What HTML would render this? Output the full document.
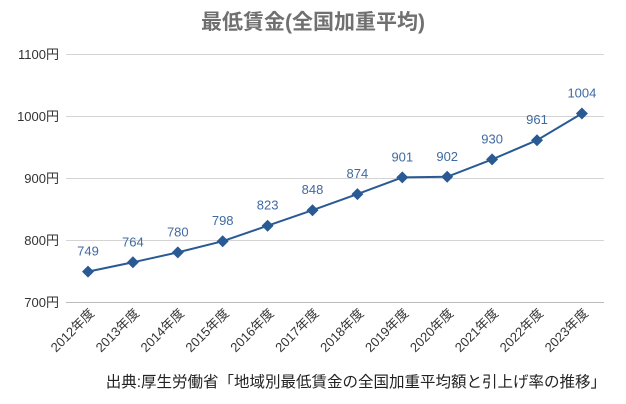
<!DOCTYPE html>
<html><head><meta charset="utf-8"><style>
body{margin:0;background:#fff}
svg{display:block}
text{font-family:"Liberation Sans","Noto Sans CJK JP",sans-serif}
</style></head><body>
<svg width="626" height="404" xmlns="http://www.w3.org/2000/svg">
<defs><path id="dm" d="M0 -6 L6 0 L0 6 L-6 0Z" fill="#2a5a94"/></defs>
<text x="313" y="29" text-anchor="middle" font-size="21" font-weight="bold" fill="#707070">最低賃金(全国加重平均)</text>
<g stroke="#d4d4d4" stroke-width="1">
<line x1="66" x2="604" y1="54.5" y2="54.5"/>
<line x1="66" x2="604" y1="116.5" y2="116.5"/>
<line x1="66" x2="604" y1="178.5" y2="178.5"/>
<line x1="66" x2="604" y1="240.5" y2="240.5"/>
<line x1="66" x2="604" y1="302.5" y2="302.5" stroke="#bbb"/>
</g>
<g font-size="13" fill="#333" text-anchor="end">
<text x="59" y="59">1100円</text>
<text x="59" y="121">1000円</text>
<text x="59" y="183">900円</text>
<text x="59" y="245">800円</text>
<text x="59" y="307">700円</text>
</g>
<polyline points="88,271.6 132.9,262.3 177.8,252.4 222.7,241.2 267.6,225.7 312.5,210.2 357.4,194.1 402.3,177.4 447.2,176.8 492.1,159.4 537,140.2 581.9,113.5" fill="none" stroke="#2a5a94" stroke-width="2"/>
<use href="#dm" x="88" y="271.6"/><use href="#dm" x="132.9" y="262.3"/><use href="#dm" x="177.8" y="252.4"/><use href="#dm" x="222.7" y="241.2"/><use href="#dm" x="267.6" y="225.7"/><use href="#dm" x="312.5" y="210.2"/><use href="#dm" x="357.4" y="194.1"/><use href="#dm" x="402.3" y="177.4"/><use href="#dm" x="447.2" y="176.8"/><use href="#dm" x="492.1" y="159.4"/><use href="#dm" x="537" y="140.2"/><use href="#dm" x="581.9" y="113.5"/>
<g font-size="13" fill="#3f6aa3" text-anchor="middle">
<text x="88" y="255.6">749</text><text x="132.9" y="246.3">764</text><text x="177.8" y="236.4">780</text><text x="222.7" y="225.2">798</text><text x="267.6" y="209.7">823</text><text x="312.5" y="194.2">848</text><text x="357.4" y="178.1">874</text><text x="402.3" y="161.4">901</text><text x="447.2" y="160.8">902</text><text x="492.1" y="143.4">930</text><text x="537" y="124.2">961</text><text x="581.9" y="97.5">1004</text>
</g>
<g font-size="13" fill="#333" text-anchor="end">
<text transform="translate(95,314) rotate(-45)">2012年度</text>
<text transform="translate(139.9,314) rotate(-45)">2013年度</text>
<text transform="translate(184.8,314) rotate(-45)">2014年度</text>
<text transform="translate(229.7,314) rotate(-45)">2015年度</text>
<text transform="translate(274.6,314) rotate(-45)">2016年度</text>
<text transform="translate(319.5,314) rotate(-45)">2017年度</text>
<text transform="translate(364.4,314) rotate(-45)">2018年度</text>
<text transform="translate(409.3,314) rotate(-45)">2019年度</text>
<text transform="translate(454.2,314) rotate(-45)">2020年度</text>
<text transform="translate(499.1,314) rotate(-45)">2021年度</text>
<text transform="translate(544,314) rotate(-45)">2022年度</text>
<text transform="translate(588.9,314) rotate(-45)">2023年度</text>
</g>
<text x="606" y="387" text-anchor="end" font-size="15.5" fill="#222">出典:厚生労働省「地域別最低賃金の全国加重平均額と引上げ率の推移」</text>
</svg>
</body></html>
